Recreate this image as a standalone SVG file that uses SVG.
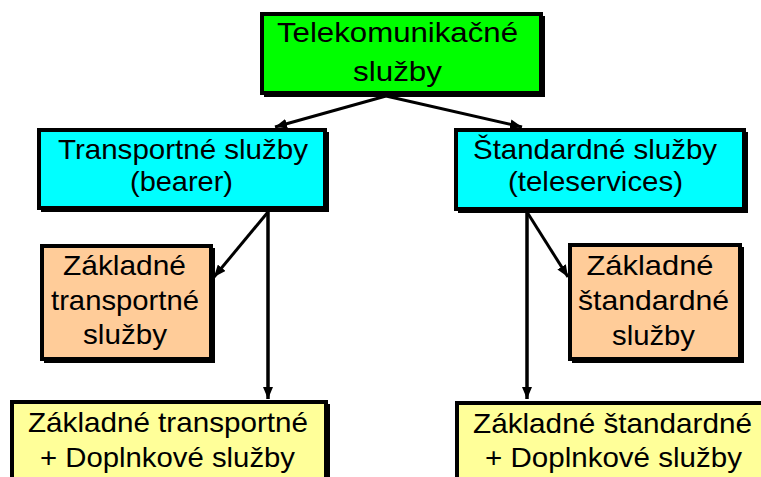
<svg xmlns="http://www.w3.org/2000/svg" width="761" height="477" viewBox="0 0 761 477">
<style>
.box{stroke:#000;stroke-width:4}
.sh{fill:#000}
.t{font-family:"Liberation Sans",Arial,sans-serif;font-size:28px;fill:#000;text-anchor:middle}
.c{stroke:#000;fill:none}
</style>
<defs>
<marker id="ah" viewBox="0 0 12 10" refX="12" refY="5" markerWidth="12" markerHeight="10" markerUnits="userSpaceOnUse" orient="auto">
<path d="M0,0 L12,5 L0,10 z" fill="#000"/>
</marker>
</defs>
<rect width="761" height="477" fill="#fff"/>
<g id="connectors">
<line class="c" stroke-width="3" x1="386" y1="96" x2="275" y2="127" marker-end="url(#ah)"/>
<line class="c" stroke-width="3" x1="386" y1="96" x2="522" y2="127" marker-end="url(#ah)"/>
<line class="c" stroke-width="3.5" x1="268" y1="212" x2="268" y2="399" marker-end="url(#ah)"/>
<line class="c" stroke-width="3" x1="268" y1="212" x2="214" y2="277" marker-end="url(#ah)"/>
<line class="c" stroke-width="3.5" x1="527" y1="212" x2="527" y2="399" marker-end="url(#ah)"/>
<line class="c" stroke-width="3" x1="527" y1="212" x2="568" y2="277" marker-end="url(#ah)"/>
</g>
<g id="telekom">
<rect class="sh" x="264" y="16" width="281" height="81"/>
<rect class="box" x="262" y="14" width="279" height="79" fill="#00ff00"/>
<text class="t" x="397.5" y="42" textLength="241" lengthAdjust="spacingAndGlyphs">Telekomunikačné</text>
<text class="t" x="397.5" y="81" textLength="89" lengthAdjust="spacingAndGlyphs">služby</text>
</g>
<g id="transport">
<rect class="sh" x="41" y="132" width="288" height="80"/>
<rect class="box" x="39" y="130" width="286" height="78" fill="#00ffff"/>
<text class="t" x="183" y="159" textLength="250" lengthAdjust="spacingAndGlyphs">Transportné služby</text>
<text class="t" x="181.5" y="191" textLength="103" lengthAdjust="spacingAndGlyphs">(bearer)</text>
</g>
<g id="standard">
<rect class="sh" x="458" y="132" width="290" height="81"/>
<rect class="box" x="456" y="130" width="288" height="79" fill="#00ffff"/>
<text class="t" x="595" y="159" textLength="244" lengthAdjust="spacingAndGlyphs">Štandardné služby</text>
<text class="t" x="595.5" y="191" textLength="175" lengthAdjust="spacingAndGlyphs">(teleservices)</text>
</g>
<g id="zakl-transport">
<rect class="sh" x="44" y="248" width="171" height="115"/>
<rect class="box" x="42" y="246" width="169" height="113" fill="#ffcc99"/>
<text class="t" x="124.5" y="275" textLength="123" lengthAdjust="spacingAndGlyphs">Základné</text>
<text class="t" x="125" y="310" textLength="148" lengthAdjust="spacingAndGlyphs">transportné</text>
<text class="t" x="125" y="344" textLength="84" lengthAdjust="spacingAndGlyphs">služby</text>
</g>
<g id="zakl-standard">
<rect class="sh" x="572" y="247" width="172" height="116"/>
<rect class="box" x="570" y="245" width="170" height="114" fill="#ffcc99"/>
<text class="t" x="650" y="275" textLength="127" lengthAdjust="spacingAndGlyphs">Základné</text>
<text class="t" x="653.5" y="310" textLength="151" lengthAdjust="spacingAndGlyphs">štandardné</text>
<text class="t" x="653.5" y="345" textLength="83" lengthAdjust="spacingAndGlyphs">služby</text>
</g>
<g id="zakl-transport-dopl">
<rect class="sh" x="14" y="404" width="316" height="80"/>
<rect class="box" x="12" y="402" width="314" height="80" fill="#ffff99"/>
<text class="t" x="168" y="432" textLength="280" lengthAdjust="spacingAndGlyphs">Základné transportné</text>
<text class="t" x="167.5" y="467" textLength="255" lengthAdjust="spacingAndGlyphs">+ Doplnkové služby</text>
</g>
<g id="zakl-standard-dopl">
<rect class="sh" x="459" y="405" width="310" height="80"/>
<rect class="box" x="457" y="403" width="310" height="80" fill="#ffff99"/>
<text class="t" x="612.5" y="433" textLength="279" lengthAdjust="spacingAndGlyphs">Základné štandardné</text>
<text class="t" x="613.5" y="467" textLength="257" lengthAdjust="spacingAndGlyphs">+ Doplnkové služby</text>
</g>
</svg>
